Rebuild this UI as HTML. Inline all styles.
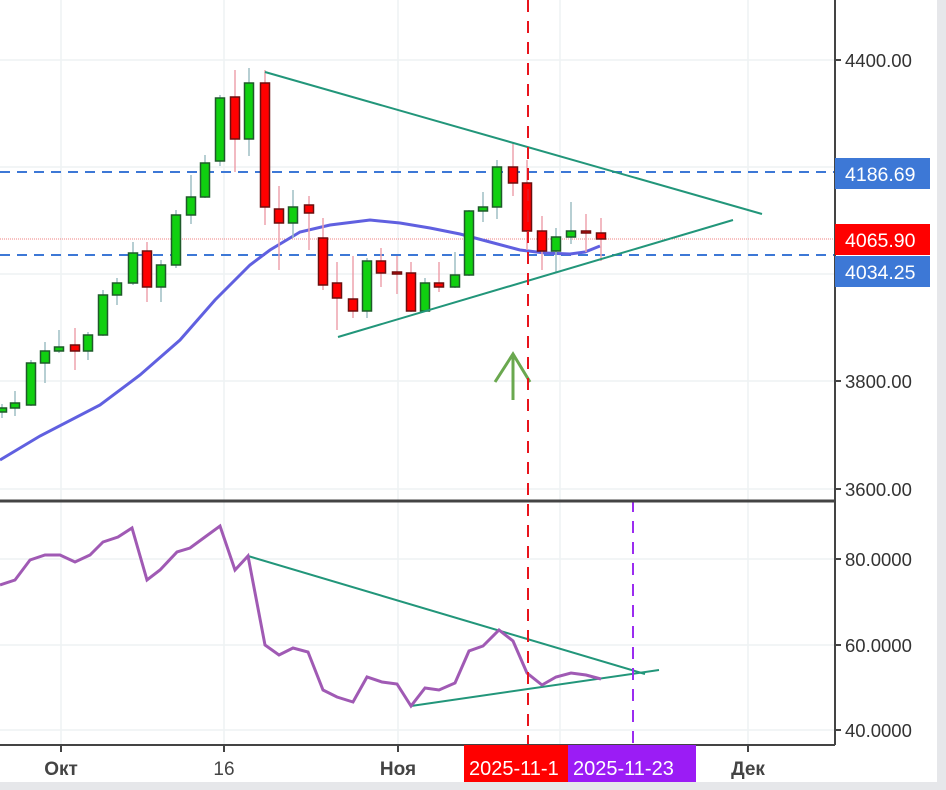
<!DOCTYPE html>
<html><head><meta charset="utf-8"><style>
html,body{margin:0;padding:0;background:#fff;}
svg{display:block;font-family:"Liberation Sans",sans-serif;}
</style></head><body>
<svg width="946" height="790" viewBox="0 0 946 790" xmlns="http://www.w3.org/2000/svg">
<rect x="0" y="0" width="946" height="790" fill="#fff"/>
<rect x="937" y="0" width="9" height="790" fill="#e6e7ea"/>
<rect x="0" y="782" width="946" height="8" fill="#e6e7ea"/>
<g stroke="#eef2f3" stroke-width="1.5">
<line x1="61" y1="0" x2="61" y2="745"/><line x1="224" y1="0" x2="224" y2="745"/>
<line x1="398" y1="0" x2="398" y2="745"/><line x1="560" y1="0" x2="560" y2="745"/>
<line x1="748" y1="0" x2="748" y2="745"/>
<line x1="0" y1="60" x2="835" y2="60"/><line x1="0" y1="167" x2="835" y2="167"/>
<line x1="0" y1="274" x2="835" y2="274"/><line x1="0" y1="381" x2="835" y2="381"/>
<line x1="0" y1="489" x2="835" y2="489"/>
<line x1="0" y1="559" x2="835" y2="559"/><line x1="0" y1="645" x2="835" y2="645"/>
<line x1="0" y1="730" x2="835" y2="730"/>
</g>
<line x1="0" y1="172" x2="835" y2="172" stroke="#3d78d6" stroke-width="2" stroke-dasharray="10,7"/>
<line x1="0" y1="255" x2="835" y2="255" stroke="#3d78d6" stroke-width="2" stroke-dasharray="10,7"/>
<line x1="0" y1="239" x2="835" y2="239" stroke="#f08080" stroke-width="1" stroke-dasharray="1,1"/>
<polyline fill="none" stroke="#6060e0" stroke-width="3" points="0,460 40,436 100,405 140,375 180,340 215,300 250,265 270,250 300,232 330,225 370,220 400,223 430,228 460,234 490,242 520,250 545,253 570,254 585,252 600,246"/>
<g id="c"></g>
<g stroke-width="2">
<line x1="265" y1="72" x2="762" y2="214" stroke="#22967a"/>
<line x1="338" y1="337" x2="733" y2="220" stroke="#22967a"/>
<line x1="248" y1="556" x2="645" y2="674" stroke="#22967a"/>
<line x1="411" y1="706" x2="659" y2="670" stroke="#22967a"/>
</g>
<polyline fill="none" stroke="#a05ab4" stroke-width="3" points="0,585 15,580 30,560 45,555 60,555 75,562 90,555 103,542 118,537 132,528 147,580 160,570 177,552 190,548 205,537 220,526 235,570 248,556 265,645 279,655 293,648 308,652 323,690 337,697 353,702 367,677 382,682 397,684 411,706 425,688 439,690 455,683 469,651 483,646 499,630 513,641 527,673 542,685 556,677 571,673 586,675 601,679"/>
<g stroke="#6aa84f" stroke-width="3" fill="none"><line x1="513" y1="354" x2="513" y2="400"/><polyline points="495,382 513,354 530,382"/></g>
<line x1="528" y1="0" x2="528" y2="745" stroke="#e8141c" stroke-width="2" stroke-dasharray="12,9"/>
<line x1="633" y1="500" x2="633" y2="745" stroke="#9b2cf0" stroke-width="2" stroke-dasharray="12,9"/>
<line x1="835" y1="0" x2="835" y2="745" stroke="#444" stroke-width="2"/>
<line x1="0" y1="501" x2="835" y2="501" stroke="#444" stroke-width="3"/>
<line x1="0" y1="745" x2="835" y2="745" stroke="#444" stroke-width="2"/>
<g stroke="#444" stroke-width="2">
<line x1="835" y1="60" x2="841" y2="60"/><line x1="835" y1="381" x2="841" y2="381"/><line x1="835" y1="489" x2="841" y2="489"/>
<line x1="835" y1="559" x2="841" y2="559"/><line x1="835" y1="645" x2="841" y2="645"/><line x1="835" y1="730" x2="841" y2="730"/>
<line x1="61" y1="745" x2="61" y2="752"/><line x1="224" y1="745" x2="224" y2="752"/><line x1="398" y1="745" x2="398" y2="752"/><line x1="748" y1="745" x2="748" y2="752"/>
</g>
<g font-size="18.5" fill="#333">
<text x="845" y="67">4400.00</text><text x="845" y="388">3800.00</text><text x="845" y="496">3600.00</text>
<text x="845" y="566">80.0000</text><text x="845" y="652">60.0000</text><text x="845" y="737">40.0000</text>
</g>
<rect x="835" y="158" width="95" height="31" fill="#3d78d6"/>
<rect x="835" y="224" width="95" height="31" fill="#f00"/>
<rect x="835" y="256" width="95" height="31" fill="#3d78d6"/>
<g font-size="19.5" fill="#fff"><text x="845" y="181">4186.69</text><text x="845" y="247">4065.90</text><text x="845" y="279">4034.25</text></g>
<g font-size="19" fill="#444" text-anchor="middle" font-weight="bold">
<text x="61" y="775">Окт</text><text x="224" y="775" font-weight="normal">16</text><text x="398" y="775">Ноя</text><text x="748" y="775">Дек</text>
</g>
<rect x="464" y="745" width="104" height="37" fill="#f00"/>
<rect x="568" y="745" width="128" height="37" fill="#9b1cf5"/>
<g font-size="20" fill="#fff"><text x="469" y="775">2025-11-1</text><text x="573" y="775">2025-11-23</text></g>
</svg>
<script>
var d=[[2,408,412,404,418,1],[15,403,408,391,416,1],[31,363,405,360,406,1],[45,351,363,342,383,1],[59,347,351,330,353,1],[75,345,351,328,370,0],[88,335,351,332,360,1],[103,295,335,290,336,1],[117,283,295,278,305,1],[133,253,283,242,285,1],[147,251,287,242,302,0],[161,265,287,260,302,1],[176,215,265,210,268,1],[191,197,215,175,224,1],[205,163,197,155,198,1],[220,98,161,95,166,1],[235,97,139,70,172,0],[249,83,139,68,156,1],[265,83,207,70,225,0],[279,209,223,186,270,0],[293,207,223,190,238,1],[309,205,213,196,250,0],[323,238,285,218,290,0],[337,283,298,262,330,0],[353,299,311,256,318,0],[367,261,311,258,318,1],[381,261,273,248,287,0],[397,272,273,256,294,0],[411,273,311,262,312,0],[425,283,311,278,312,1],[439,283,287,262,292,0],[455,275,287,252,288,1],[469,211,275,210,276,1],[483,207,211,192,222,1],[497,167,207,160,219,1],[513,167,183,142,196,0],[527,183,231,160,250,0],[542,231,251,216,270,0],[556,237,251,228,273,1],[571,231,237,202,244,1],[586,231,233,214,252,0],[601,233,239,218,261,0]];
var s='';d.forEach(function(c){var g=c[5];s+='<line x1="'+c[0]+'" y1="'+c[3]+'" x2="'+c[0]+'" y2="'+c[4]+'" stroke="'+(g?'#9fbfc4':'#eda3ad')+'" stroke-width="1.5"/>';var h=Math.max(c[2]-c[1],2);s+='<rect x="'+(c[0]-4.5)+'" y="'+c[1]+'" width="9" height="'+h+'" fill="'+(g?'#10d010':'#f00')+'" stroke="'+(g?'#1f5a2a':'#6b0f0f')+'" stroke-width="1.5"/>';});
document.getElementById('c').innerHTML=s;
</script>
</body></html>
